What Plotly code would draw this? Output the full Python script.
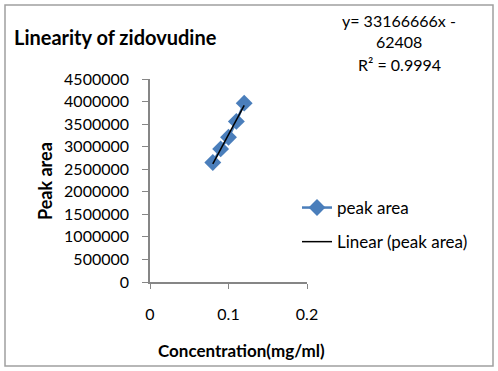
import numpy as np
import plotly.graph_objects as go

# Data
concentration = [0.08, 0.09, 0.10, 0.11, 0.12]
peak_area = [2650000, 2950000, 3210000, 3560000, 3965000]
x_ticks = [0, 0.1, 0.2]
y_ticks = list(range(0, 4500001, 500000))
title_text = "Linearity of zidovudine"
x_title = "Concentration(mg/ml)"
y_title = "Peak area"
eq_lines = ["y= 33166666x -", "62408", "R\u00b2 = 0.9994"]
series_name = "peak area"
trend_name = "Linear (peak area)"

W, H = 498, 371
ML, MR, MT, MB = 150, 191, 79, 89
PW, PH = W - ML - MR, H - MT - MB


def fx(px):
    return (px - ML) / PW


def fy(py):
    return (H - MB - py) / PH


FONT = "Lato"
slope, intercept = np.polyfit(concentration, peak_area, 1)
tx = [min(concentration), max(concentration)]
ty = [slope * v + intercept for v in tx]

fig = go.Figure()
fig.add_trace(go.Scatter(
    x=concentration, y=peak_area, mode="lines+markers", name=series_name,
    line=dict(color="#4a7ebb", width=2.5),
    marker=dict(symbol="diamond", size=13, color="#4a7ebb"),
    legendgroup="a",
))
fig.add_trace(go.Scatter(
    x=tx, y=ty, mode="lines", name=trend_name,
    line=dict(color="#000000", width=1.5),
    legendgroup="b",
))

fig.update_layout(
    width=W, height=H,
    margin=dict(l=ML, r=MR, t=MT, b=MB),
    paper_bgcolor="white", plot_bgcolor="white",
    font=dict(family=FONT, size=16, color="#000000"),
    showlegend=True,
    legend=dict(x=fx(297), y=fy(190), xanchor="left", yanchor="top",
                bgcolor="rgba(0,0,0,0)", tracegroupgap=9,
                font=dict(family=FONT, size=17)),
    xaxis=dict(range=[0, 0.2], tickvals=x_ticks, ticktext=["0", "0.1", "0.2"],
               showgrid=False, zeroline=False, showline=True,
               linecolor="#868686", linewidth=1.5, ticks="outside", ticklen=5,
               tickcolor="#868686", ticklabelstandoff=12, fixedrange=True,
               tickfont=dict(size=16)),
    yaxis=dict(range=[0, 4500000], tickvals=y_ticks,
               ticktext=[str(v) for v in y_ticks],
               showgrid=False, zeroline=False, showline=True,
               linecolor="#868686", linewidth=1.5, ticks="outside", ticklen=6,
               tickcolor="#868686", ticklabelstandoff=10, fixedrange=True,
               tickfont=dict(size=16)),
)

ann = []
ann.append(dict(text="<b>" + title_text + "</b>", x=fx(12), y=fy(37),
                xanchor="left", yanchor="middle", showarrow=False,
                font=dict(family=FONT, size=20)))
ann.append(dict(text="<b>" + x_title + "</b>", x=fx(241), y=fy(350),
                xanchor="center", yanchor="middle", showarrow=False,
                font=dict(family=FONT, size=17)))
ann.append(dict(text="<b>" + y_title + "</b>", x=fx(45), y=fy(181),
                xanchor="center", yanchor="middle", showarrow=False,
                textangle=-90, font=dict(family=FONT, size=18)))
for line, py in zip(eq_lines, [20, 42, 64]):
    ann.append(dict(text=line, x=fx(399), y=fy(py), xanchor="center",
                    yanchor="middle", showarrow=False,
                    font=dict(family=FONT, size=16)))
for a in ann:
    a["xref"] = "paper"
    a["yref"] = "paper"
fig.update_layout(annotations=ann)

fig.add_shape(type="rect", xref="paper", yref="paper",
              x0=fx(5), x1=fx(493), y0=fy(366), y1=fy(5),
              line=dict(color="#a0a0a0", width=1.5), fillcolor="rgba(0,0,0,0)",
              layer="below")

fig.write_html("out.html", config={"displayModeBar": False},
               post_script="document.body.style.margin='0';document.body.style.overflow='hidden';")
